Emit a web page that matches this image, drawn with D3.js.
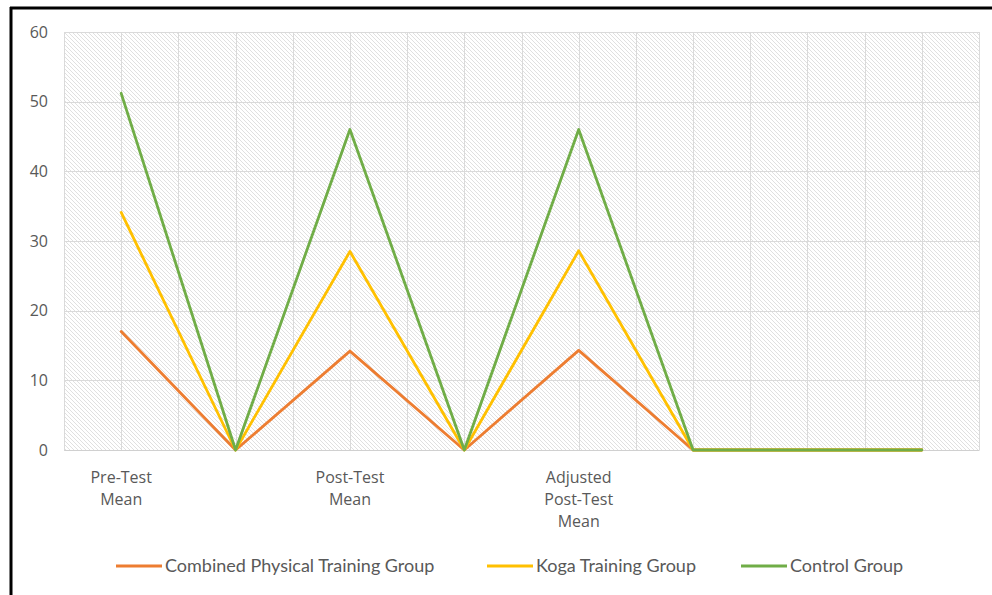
<!DOCTYPE html>
<html>
<head>
<meta charset="utf-8">
<script src="https://cdn.jsdelivr.net/npm/d3@7"></script>
<style>
  html, body { margin: 0; padding: 0; background: #fff; }
  svg { display: block; }
</style>
</head>
<body>
<svg id="chart" width="992" height="595"></svg>
<script>
// Category labels (line breaks mark where the axis label wraps)
const categories = ["Pre-Test\nMean", "", "Post-Test\nMean", "", "Adjusted\nPost-Test\nMean", "", "", ""];
const yTicks = [0, 10, 20, 30, 40, 50, 60];

const seriesNames = ["Combined Physical Training Group", "Koga Training Group", "Control Group"];
const combinedValues = [17.0, 0, 14.2, 0, 14.3, 0, 0, 0];
const kogaValues     = [34.1, 0, 28.5, 0, 28.6, 0, 0, 0];
const controlValues  = [51.2, 0, 46.0, 0, 46.0, 0, 0, 0];
const seriesColors = ["#ED7D31", "#FFC000", "#70AD47"];

const series = [combinedValues, kogaValues, controlValues].map((values, i) => ({
  name: seriesNames[i], values, color: seriesColors[i]
}));

const svg = d3.select("#chart");
const W = 992, H = 595;
const plot = { left: 64, right: 979, top: 32, bottom: 450 };

// Frame edges (top and left)
svg.append("line").attr("x1", 10).attr("x2", W).attr("y1", 8).attr("y2", 8)
  .attr("stroke", "#000").attr("stroke-width", 3);
svg.append("line").attr("x1", 11).attr("x2", 11).attr("y1", 7).attr("y2", H)
  .attr("stroke", "#000").attr("stroke-width", 3);

// Diagonal hatch fill for the plot area
const defs = svg.append("defs");
const pat = defs.append("pattern")
  .attr("id", "hatch").attr("patternUnits", "userSpaceOnUse")
  .attr("width", 4).attr("height", 4);
pat.append("rect").attr("width", 4).attr("height", 4).attr("fill", "#fff");
pat.append("path").attr("d", "M-1,-1 L5,5 M-1,3 L1,5 M3,-1 L5,1")
  .attr("stroke", "#dcdcdc").attr("stroke-width", 0.9);

const x = d3.scaleBand().domain(d3.range(categories.length))
  .range([plot.left, plot.right]).padding(0);
const cx = i => x(i) + x.bandwidth() / 2;
const y = d3.scaleLinear().domain([0, 60]).range([plot.bottom, plot.top]);

svg.append("rect")
  .attr("x", plot.left).attr("y", plot.top)
  .attr("width", plot.right - plot.left).attr("height", plot.bottom - plot.top)
  .attr("fill", "url(#hatch)");

// Gridlines: horizontal at each tick, vertical at category edges and centres
const grid = svg.append("g").attr("stroke", "#dadada").attr("stroke-width", 1);
yTicks.forEach(t => {
  grid.append("line").attr("x1", plot.left).attr("x2", plot.right)
    .attr("y1", Math.round(y(t)) + 0.5).attr("y2", Math.round(y(t)) + 0.5);
});
const vx = [];
d3.range(categories.length).forEach(i => { vx.push(x(i)); vx.push(cx(i)); });
vx.push(plot.right);
vx.forEach(v => {
  grid.append("line").attr("x1", Math.round(v) + 0.5).attr("x2", Math.round(v) + 0.5)
    .attr("y1", plot.top).attr("y2", plot.bottom);
});

// Y axis
const yAxis = svg.append("g")
  .attr("transform", `translate(${plot.left - 16},0)`)
  .call(d3.axisLeft(y).tickValues(yTicks).tickSize(0).tickPadding(0));
yAxis.select(".domain").remove();
yAxis.selectAll("text")
  .attr("font-family", "'Open Sans', sans-serif").attr("font-size", 16)
  .attr("fill", "#595959");

// X axis category labels
const xAxis = svg.append("g")
  .attr("transform", `translate(0,${plot.bottom})`)
  .call(d3.axisBottom(x).tickSize(0).tickFormat(() => ""));
xAxis.select(".domain").attr("stroke", "#d0d0d0");
xAxis.selectAll(".tick text").each(function(d) {
  const lines = categories[d] ? categories[d].split("\n") : [];
  const t = d3.select(this)
    .attr("font-family", "'Open Sans', sans-serif").attr("font-size", 16)
    .attr("fill", "#595959").attr("y", 0).attr("dy", null);
  lines.forEach((ln, k) => {
    t.append("tspan").attr("x", 0).attr("y", 33 + k * 22).text(ln);
  });
});

// Series lines
const line = d3.line().x((d, i) => cx(i)).y(d => y(d));
series.forEach(s => {
  svg.append("path").datum(s.values)
    .attr("d", line)
    .attr("fill", "none")
    .attr("stroke", s.color)
    .attr("stroke-width", 2.8)
    .attr("stroke-linejoin", "round")
    .attr("stroke-linecap", "round");
});

// Legend
const legendX = [116, 487, 741];
const legend = svg.append("g").attr("transform", "translate(0,566)");
series.forEach((s, i) => {
  const g = legend.append("g").attr("transform", `translate(${legendX[i]},0)`);
  g.append("line").attr("x1", 0).attr("x2", 46).attr("y1", 0).attr("y2", 0)
    .attr("stroke", s.color).attr("stroke-width", 2.8);
  g.append("text").attr("x", 49).attr("y", 0).attr("dy", "0.35em")
    .attr("font-family", "Lato, sans-serif")
    .attr("font-size", 18).attr("fill", "#595959").text(s.name);
});
</script>
</body>
</html>
